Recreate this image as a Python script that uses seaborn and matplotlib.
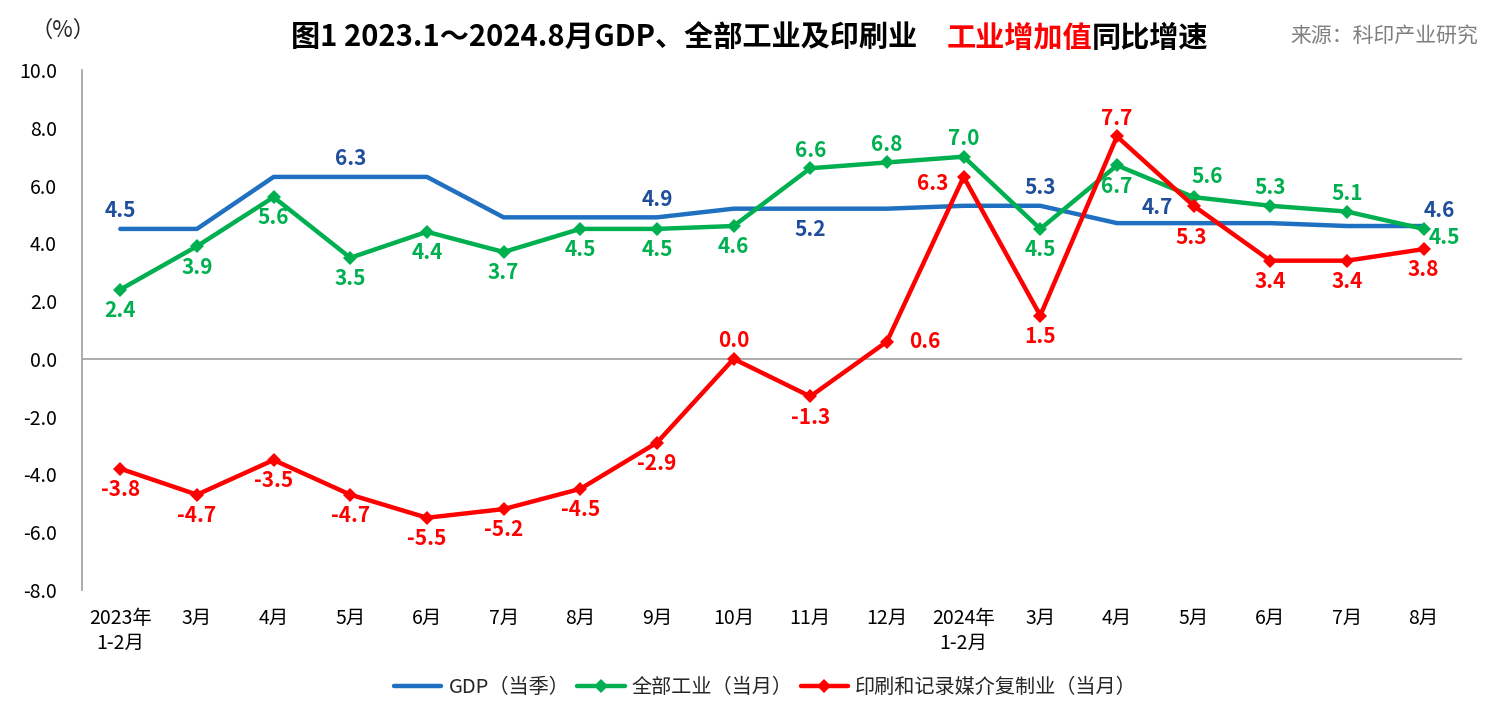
import numpy as np
import pandas as pd
import matplotlib
matplotlib.use("Agg")
import matplotlib.pyplot as plt
import seaborn as sns
from matplotlib.lines import Line2D

sns.set_theme(style="white")
plt.rcParams["font.family"] = ["Noto Sans CJK SC", "DejaVu Sans"]
plt.rcParams["axes.unicode_minus"] = False

# ---- data ----
periods = ["2023年\n1-2月", "3月", "4月", "5月", "6月", "7月", "8月", "9月", "10月",
           "11月", "12月", "2024年\n1-2月", "3月", "4月", "5月", "6月", "7月", "8月"]
gdp = [4.5, 4.5, 6.3, 6.3, 6.3, 4.9, 4.9, 4.9, 5.2, 5.2, 5.2, 5.3, 5.3, 4.7, 4.7, 4.7, 4.6, 4.6]
industry = [2.4, 3.9, 5.6, 3.5, 4.4, 3.7, 4.5, 4.5, 4.6, 6.6, 6.8, 7.0, 4.5, 6.7, 5.6, 5.3, 5.1, 4.5]
printing = [-3.8, -4.7, -3.5, -4.7, -5.5, -5.2, -4.5, -2.9, 0.0, -1.3, 0.6, 6.3, 1.5, 7.7, 5.3, 3.4, 3.4, 3.8]
y_ticks = [-8.0, -6.0, -4.0, -2.0, 0.0, 2.0, 4.0, 6.0, 8.0, 10.0]

names = ["GDP（当季）", "全部工业（当月）", "印刷和记录媒介复制业（当月）"]

# where each data label goes (None = no label)
gdp_pos = ["a", None, None, "a", None, None, None, "a", None, "b", None, None, "a", None, "al", None, None, "ar"]
ind_pos = ["b", "b", "b", "b", "b", "b", "b", "b", "b", "a", "a", "a", "b", "b", "ar2", "a", "a", "r2"]
prt_pos = ["b", "b", "b", "b", "b", "b", "b", "b", "a", "b", "r", "l", "b", "a", "bb", "b", "b", "b"]

offsets = {"a": (0, 13), "b": (0, -15), "bb": (-2, -23), "al": (-26, 11),
           "l": (-22, -5), "r": (27, 0), "ar": (11, 11), "ar2": (10, 15), "r2": (15, -6)}

blue_line = "#1f70c1"
blue_lab = "#1f4e9c"
green = "#00b050"
red = "#ff0000"

idx = np.arange(len(periods))
df = pd.DataFrame({
    "x": np.tile(idx, 3),
    "value": gdp + industry + printing,
    "series": np.repeat(names, len(periods)),
})

fig = plt.figure(figsize=(15.01, 7.28), dpi=100)
ax = fig.add_axes([0.0546, 0.1896, 0.9194, 0.7142])

sns.lineplot(data=df[df.series == names[0]], x="x", y="value", color=blue_line,
             lw=3.2, ax=ax, legend=False)
sns.lineplot(data=df[df.series == names[1]], x="x", y="value", color=green,
             lw=3.2, marker="D", markersize=7, markeredgewidth=0, ax=ax, legend=False)
sns.lineplot(data=df[df.series == names[2]], x="x", y="value", color=red,
             lw=3.2, marker="D", markersize=7, markeredgewidth=0, ax=ax, legend=False)

ax.axhline(0, color="#a6a6a6", lw=1.3, zorder=0)


def add_labels(vals, pos, color):
    for i, (v, p) in enumerate(zip(vals, pos)):
        if p is None:
            continue
        dx, dy = offsets[p]
        ax.annotate(f"{v:.1f}", (i, v), xytext=(dx, dy), textcoords="offset points",
                    ha="center", va="center", color=color, fontsize=15,
                    fontweight="bold")


add_labels(gdp, gdp_pos, blue_lab)
add_labels(industry, ind_pos, green)
add_labels(printing, prt_pos, red)

ax.set_xlim(-0.5, len(periods) - 0.5)
ax.set_ylim(-8, 10)
ax.set_yticks(y_ticks)
ax.set_yticklabels([f"{t:.1f}" for t in y_ticks], fontsize=14)
ax.set_xticks(idx)
ax.set_xticklabels(periods, fontsize=14, linespacing=1.25)
ax.set_xlabel("")
ax.set_ylabel("")
for s in ["top", "right", "bottom"]:
    ax.spines[s].set_visible(False)
ax.spines["left"].set_color("#a6a6a6")
ax.spines["left"].set_linewidth(1.3)
ax.tick_params(axis="y", left=False, pad=12, labelcolor="black")
ax.tick_params(axis="x", bottom=False, pad=7, labelcolor="black")
ax.grid(False)

# legend
handles = [
    Line2D([0], [0], color=blue_line, lw=3.2),
    Line2D([0], [0], color=green, lw=3.2, marker="D", markersize=7, markeredgewidth=0),
    Line2D([0], [0], color=red, lw=3.2, marker="D", markersize=7, markeredgewidth=0),
]
fig.legend(handles, names, loc="center", bbox_to_anchor=(0.51, 0.055), ncol=3,
           frameon=False, fontsize=14.5, handlelength=2.35, handletextpad=0.35,
           columnspacing=0.4)

# title in pieces (mixed colours)
pieces = [("图1 2023.1～2024.8月GDP、全部工业及印刷业　", "black"),
          ("工业增加值", red), ("同比增速", "black")]
fig.canvas.draw()
renderer = fig.canvas.get_renderer()
texts = []
for s, c in pieces:
    t = fig.text(0, 0.948, s, color=c, fontsize=21, fontweight="bold", va="center", ha="left")
    texts.append(t)
widths = [t.get_window_extent(renderer).width / fig.bbox.width for t in texts]
x0 = 0.4997 - sum(widths) / 2
for t, w in zip(texts, widths):
    t.set_x(x0)
    x0 += w

fig.text(0.042, 0.958, "（%）", fontsize=16, va="center", ha="center")
fig.text(0.985, 0.951, "来源：科印产业研究", fontsize=15, color="#7f7f7f", va="center", ha="right")

fig.savefig("out.png", dpi=100)
